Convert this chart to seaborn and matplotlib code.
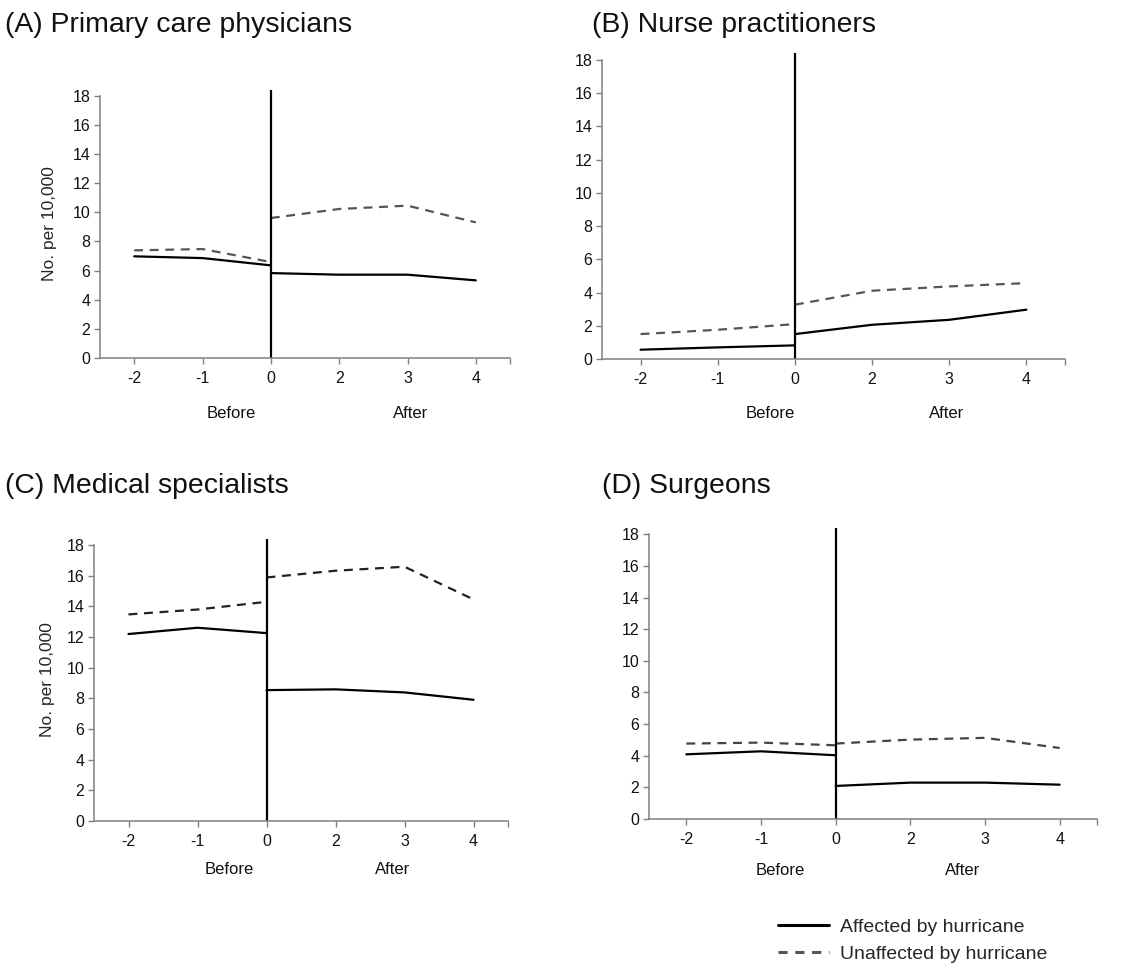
import matplotlib
matplotlib.use("Agg")
import matplotlib.pyplot as plt
import seaborn as sns
import pandas as pd
from matplotlib.lines import Line2D

sns.set_theme(style="white")
plt.rcParams['font.family'] = ['Liberation Sans', 'DejaVu Sans']

# ---- data ----
x_labels = ['-2', '-1', '0', '2', '3', '4']
before_pos = [0, 1, 2]
after_pos = [2, 3, 4, 5]

titles = ['(A) Primary care physicians', '(B) Nurse practitioners',
          '(C) Medical specialists', '(D) Surgeons']

affected_before = [
    [6.98, 6.86, 6.36],
    [0.56, 0.70, 0.82],
    [12.20, 12.61, 12.26],
    [4.09, 4.28, 4.03],
]
affected_after = [
    [5.83, 5.72, 5.72, 5.33],
    [1.50, 2.06, 2.36, 2.97],
    [8.54, 8.59, 8.39, 7.91],
    [2.09, 2.30, 2.30, 2.17],
]
unaffected_before = [
    [7.39, 7.48, 6.59],
    [1.50, 1.76, 2.10],
    [13.48, 13.80, 14.30],
    [4.77, 4.83, 4.66],
]
unaffected_after = [
    [9.61, 10.23, 10.46, 9.31],
    [3.27, 4.11, 4.37, 4.57],
    [15.89, 16.33, 16.59, 14.46],
    [4.77, 5.02, 5.13, 4.49],
]
legend_labels = ['Affected by hurricane', 'Unaffected by hurricane']
ylabel = 'No. per 10,000'

# ---- layout ----
W, H = 1129, 972
fig = plt.figure(figsize=(W / 100, H / 100), dpi=100)

# axes rects in pixel (left, right, top, bottom)
rects_px = [
    (100, 510, 90, 358),
    (602, 1065, 53.4, 359),
    (94, 508, 539, 821),
    (649, 1097, 528, 819),
]
title_px = [(5, 32), (592, 32), (5, 493), (602, 493)]
before_after_x = [(1.42, 4.05), (1.68, 3.97), (1.46, 3.83), (1.26, 3.70)]
before_after_y = [413, 413, 869, 870]
dash_colors = ['#555555', '#555555', '#222222', '#444444']
show_ylabel = [True, False, True, False]
ylabel_pad = [11, 8, 8, 8]

spine_color = '#808080'

for i in range(4):
    l, r, t, b = rects_px[i]
    ax = fig.add_axes([l / W, (H - b) / H, (r - l) / W, (b - t) / H])
    segs = [
        ('aff_b', before_pos, affected_before[i]),
        ('aff_a', after_pos, affected_after[i]),
        ('un_b', before_pos, unaffected_before[i]),
        ('un_a', after_pos, unaffected_after[i]),
    ]
    for name, pos, vals in segs:
        df = pd.DataFrame({'pos': pos, 'val': vals})
        if name.startswith('aff'):
            sns.lineplot(data=df, x='pos', y='val', ax=ax, color='black',
                         linewidth=1.6, sort=False)
        else:
            sns.lineplot(data=df, x='pos', y='val', ax=ax, color=dash_colors[i],
                         linewidth=1.6, sort=False, dashes=False,
                         linestyle=(0, (4, 3)))
    ax.axvline(2, ymin=0, ymax=1, color='black', linewidth=1.6)
    ax.set_xlim(-0.5, 5.5)
    ax.set_ylim(0, 18.4)
    ax.set_xticks([0, 1, 2, 3, 4, 5, 5.5])
    ax.set_xticklabels(x_labels + [''])
    ax.set_yticks(range(0, 19, 2))
    ax.set_xlabel('')
    ax.set_ylabel(ylabel if show_ylabel[i] else '', fontsize=12.5,
                  labelpad=ylabel_pad[i])
    for s in ['top', 'right']:
        ax.spines[s].set_visible(False)
    for s in ['left', 'bottom']:
        ax.spines[s].set_color(spine_color)
        ax.spines[s].set_linewidth(1.1)
    ax.spines['left'].set_bounds(0, 18)
    ax.tick_params(axis='both', which='both', direction='out', length=4,
                   width=1.0, color=spine_color, labelsize=11.5,
                   labelcolor='#111111', left=True, bottom=True)
    ax.tick_params(axis='x', pad=5)
    ax.tick_params(axis='y', pad=3)
    # Before / After labels
    bx, axx = before_after_x[i]
    ypix = before_after_y[i]
    yfrac = (H - ypix) / H
    for xx, txt in [(bx, 'Before'), (axx, 'After')]:
        xfig = (l + (xx + 0.5) / 6 * (r - l)) / W
        fig.text(xfig, yfrac, txt, ha='center', va='center', fontsize=12,
                 color='#111111')
    tx, ty = title_px[i]
    fig.text(tx / W, (H - ty) / H, titles[i], ha='left', va='baseline',
             fontsize=20.4, color='#111111')

handles = [
    Line2D([], [], color='black', linewidth=2.2),
    Line2D([], [], color='#555555', linewidth=2.2, linestyle=(0, (3, 2.5))),
]
fig.legend(handles, legend_labels, loc='upper left',
           bbox_to_anchor=(778 / W, (H - 918) / H), frameon=False,
           fontsize=14, handlelength=2.6, handletextpad=0.6,
           labelspacing=0.5, borderpad=0, borderaxespad=0)

fig.savefig('out.png', dpi=100)
